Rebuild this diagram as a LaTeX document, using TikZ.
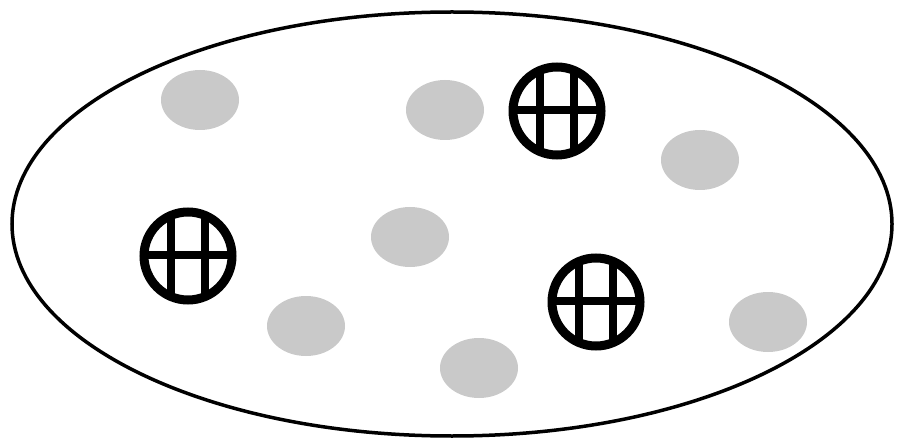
\documentclass[tikz,border=0pt]{standalone}
\usepackage{tikz}

\begin{document}
\begin{tikzpicture}[x=1pt,y=-1pt,
  spot/.style={fill=black!21,draw=none},
  ring/.style={draw,line width=9pt},
  bar/.style={line width=7.5pt}]
\useasboundingbox (0,0) rectangle (904,446);
\node[draw=none,inner sep=0pt] (outer) at (452,224) {};
\draw[line width=3.5pt] (outer) ellipse [x radius=440, y radius=212];
% grey spots
\foreach \x/\y in {200/100,445/110,700/160,410/237,306/326,479/368,768/322}
  \fill[spot] (\x,\y) ellipse [x radius=39, y radius=30];
% crossed rings
\foreach \x/\y in {557/111,188/256,596/302}{
  \begin{scope}
    \clip (\x,\y) circle [radius=44];
    \draw[bar] (\x-17,\y-50) -- (\x-17,\y+50);
    \draw[bar] (\x+17,\y-50) -- (\x+17,\y+50);
    \draw[bar] (\x-50,\y-1) -- (\x+50,\y-1);
  \end{scope}
  \draw[ring] (\x,\y) circle [radius=44];
}
\end{tikzpicture}
\end{document}
